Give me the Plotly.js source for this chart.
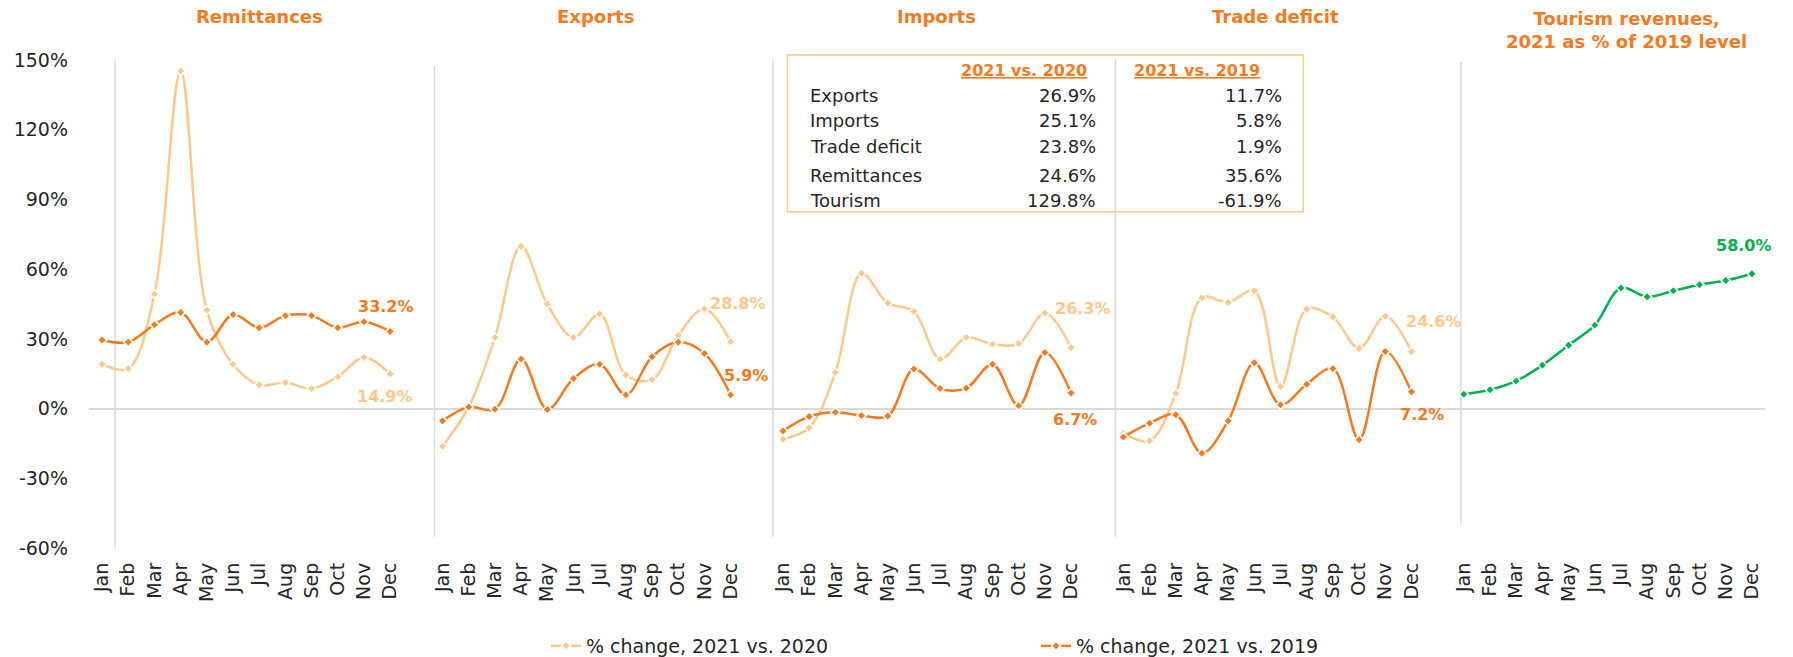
<!DOCTYPE html>
<html><head><meta charset="utf-8">
<script src="https://cdn.plot.ly/plotly-3.0.1.min.js"></script>
<style>html,body{margin:0;padding:0;background:#fff}#chart{width:1793px;height:657px}</style>
</head><body><div id="chart"></div>
<script>
// ---------- DATA ----------
const months = ['Jan','Feb','Mar','Apr','May','Jun','Jul','Aug','Sep','Oct','Nov','Dec'];
const panelTitles = ['Remittances','Exports','Imports','Trade deficit','Tourism revenues,<br>2021 as % of 2019 level'];
const seriesNames = ['% change, 2021 vs. 2020','% change, 2021 vs. 2019'];
const remit2020   = [19.1,17.2,49.3,145.3,42.4,19.1,10.2,11.2,8.6,13.7,22.0,14.9];
const remit2019   = [29.5,28.6,36.1,41.4,28.6,40.5,34.8,40.0,40.0,34.8,37.4,33.2];
const exports2020 = [-16.2,0.7,30.6,69.8,45.0,30.6,40.7,14.5,12.5,31.5,43.0,28.8];
const exports2019 = [-5.3,0.7,-0.3,21.3,-0.4,12.9,19.1,5.9,22.3,28.6,23.7,5.9];
const imports2020 = [-13.2,-8.2,15.5,58.2,45.4,41.8,21.3,30.6,27.7,28.0,41.1,26.3];
const imports2019 = [-9.6,-3.4,-1.6,-3.0,-3.2,17.0,8.6,8.8,19.1,1.2,24.1,6.7];
const deficit2020 = [-10.6,-13.9,6.5,47.7,45.7,50.7,9.5,42.8,39.4,25.9,39.7,24.6];
const deficit2019 = [-12.2,-6.3,-2.6,-19.2,-5.3,19.7,1.6,10.5,17.2,-13.4,24.6,7.2];
const tourism2021vs2019 = [6.2,8.1,11.9,18.7,27.3,35.9,51.9,48.1,50.7,53.3,55.1,58.0];
const tableRows    = ['Exports','Imports','Trade deficit','Remittances','Tourism'];
const tableHeaders = ['2021 vs. 2020','2021 vs. 2019'];
const table2020 = [26.9,25.1,23.8,24.6,129.8];
const table2019 = [11.7,5.8,1.9,35.6,-61.9];
const yTicks = [-60,-30,0,30,60,90,120,150];

// ---------- STYLE ----------
const FONT = 'DejaVu Sans';
const LIGHT = '#FFC78A', DARK = '#F47A20', GREEN = '#00B050', TXT = '#262626', GRID = '#D9D9D9';
const SLOTS = 13;
const ML = 89, MR = 28, MT = 60, MB = 109, W = 1793, H = 657;
const PW = W - ML - MR, PH = H - MT - MB;
const X = px => (px - ML) / PW;           // pixel -> paper x
const Y = py => (H - MB - py) / PH;        // pixel -> paper y

const xs = g => months.map((m, i) => g * SLOTS + i);

const pairs = [[remit2020, remit2019],[exports2020, exports2019],[imports2020, imports2019],[deficit2020, deficit2019]];
const legendIds = ['legend', 'legend2'];
const traces = [];
pairs.forEach((p, g) => {
  [LIGHT, DARK].forEach((c, k) => {
    traces.push({
      type: 'scatter', mode: 'lines+markers', x: xs(g), y: p[k],
      name: seriesNames[k], legendgroup: 's' + k, showlegend: g === 0, legend: legendIds[k],
      line: {color: c, width: 2.5, shape: 'spline', smoothing: 1},
      marker: {symbol: 'diamond', size: 7, color: c, line: {color: '#fff', width: 1.5}},
      hoverinfo: 'skip'
    });
  });
});
traces.push({
  type: 'scatter', mode: 'lines+markers', x: xs(4), y: tourism2021vs2019,
  name: panelTitles[4], showlegend: false,
  line: {color: GREEN, width: 2.5, shape: 'spline', smoothing: 1},
  marker: {symbol: 'diamond', size: 7, color: GREEN, line: {color: '#fff', width: 1.5}},
  hoverinfo: 'skip'
});

// ---------- ANNOTATIONS ----------
const ann = [];
const titleX = [259.6, 595.7, 936.5, 1275.6, 1626.6];
panelTitles.forEach((t, i) => {
  ann.push({xref: 'paper', yref: 'paper', x: X(titleX[i]), y: Y(i === 4 ? 30 : 17),
    text: '<b>' + t + '</b>', showarrow: false, xanchor: 'center', yanchor: 'middle',
    font: {family: FONT, size: 18, color: DARK}});
});
// end-of-series labels
const endLabels = [
  {g:0, v:remit2020,   c:LIGHT, dx:-5, dy:23},
  {g:0, v:remit2019,   c:DARK,  dx:-4, dy:-25},
  {g:1, v:exports2020, c:LIGHT, dx:7,  dy:-38},
  {g:1, v:exports2019, c:DARK,  dx:15, dy:-19},
  {g:2, v:imports2020, c:LIGHT, dx:12, dy:-39},
  {g:2, v:imports2019, c:DARK,  dx:4,  dy:26},
  {g:3, v:deficit2020, c:LIGHT, dx:23, dy:-30},
  {g:3, v:deficit2019, c:DARK,  dx:11, dy:23},
  {g:4, v:tourism2021vs2019, c:GREEN, dx:-8, dy:-28}
];
endLabels.forEach(l => {
  const last = l.v[l.v.length - 1];
  ann.push({xref: 'x', yref: 'y', x: l.g * SLOTS + 11, y: last, text: '<b>' + last.toFixed(1) + '%</b>',
    showarrow: false, xshift: l.dx, yshift: -l.dy, xanchor: 'center', yanchor: 'middle',
    font: {family: FONT, size: 16, color: l.c}});
});
// table
const rowY = [95, 120, 146.4, 175.8, 200.5];
tableHeaders.forEach((h, j) => {
  ann.push({xref: 'paper', yref: 'paper', x: X(j === 0 ? 1024.3 : 1197.2), y: Y(70.4),
    text: '<b><u>' + h + '</u></b>', showarrow: false, xanchor: 'center', yanchor: 'middle',
    font: {family: FONT, size: 16, color: DARK}});
});
tableRows.forEach((r, i) => {
  ann.push({xref: 'paper', yref: 'paper', x: X(807.7), y: Y(rowY[i]), text: r, showarrow: false,
    xanchor: 'left', yanchor: 'middle', font: {family: FONT, size: 18, color: TXT}});
  ann.push({xref: 'paper', yref: 'paper', x: X(1097.8), y: Y(rowY[i]), text: table2020[i].toFixed(1) + '%', showarrow: false,
    xanchor: 'right', yanchor: 'middle', font: {family: FONT, size: 18, color: TXT}});
  ann.push({xref: 'paper', yref: 'paper', x: X(1284.4), y: Y(rowY[i]), text: table2019[i].toFixed(1) + '%', showarrow: false,
    xanchor: 'right', yanchor: 'middle', font: {family: FONT, size: 18, color: TXT}});
});

// ---------- SHAPES ----------
const shapes = [];
const seps = [[115, 60, 548], [434.5, 66, 537], [773, 60, 537], [1115.5, 59, 537], [1461, 62, 524]];
seps.forEach(s => shapes.push({type: 'line', xref: 'paper', yref: 'paper', x0: X(s[0]), x1: X(s[0]),
  y0: Y(s[2]), y1: Y(s[1]), line: {color: GRID, width: 1.5}, layer: 'below'}));
shapes.push({type: 'rect', xref: 'paper', yref: 'paper', x0: X(787.4), x1: X(1303.3), y0: Y(211.7), y1: Y(55.1),
  line: {color: LIGHT, width: 1.5}, fillcolor: 'rgba(0,0,0,0)', layer: 'above'});

const tickVals = [], tickText = [];
for (let g = 0; g < 5; g++) xs(g).forEach((x, i) => { tickVals.push(x); tickText.push(months[i]); });

const legendBase = {orientation: 'h', xanchor: 'left', y: Y(646), yanchor: 'middle',
  font: {family: FONT, size: 19, color: TXT}, bgcolor: 'rgba(0,0,0,0)', borderwidth: 0};

const layout = {
  width: W, height: H, margin: {l: ML, r: MR, t: MT, b: MB, pad: 0, autoexpand: false},
  paper_bgcolor: '#fff', plot_bgcolor: '#fff',
  font: {family: FONT, color: TXT},
  showlegend: true,
  legend: Object.assign({}, legendBase, {x: X(546)}),
  legend2: Object.assign({}, legendBase, {x: X(1036)}),
  xaxis: {range: [-0.5, 63.5], tickmode: 'array', tickvals: tickVals, ticktext: tickText, tickangle: -90,
    showgrid: false, zeroline: false, showline: false, ticks: '', ticklabelstandoff: 10, automargin: false,
    tickfont: {family: FONT, size: 19, color: TXT}, fixedrange: true},
  yaxis: {range: [-60, 150], tickmode: 'array', tickvals: yTicks, ticktext: yTicks.map(v => v + '%'),
    showgrid: false, zeroline: true, zerolinecolor: GRID, zerolinewidth: 2, showline: false, ticks: '',
    ticklabelstandoff: 20, automargin: false, tickfont: {family: FONT, size: 19, color: TXT}, fixedrange: true},
  annotations: ann, shapes: shapes
};
Plotly.newPlot('chart', traces, layout, {staticPlot: true, displayModeBar: false});
</script></body></html>
